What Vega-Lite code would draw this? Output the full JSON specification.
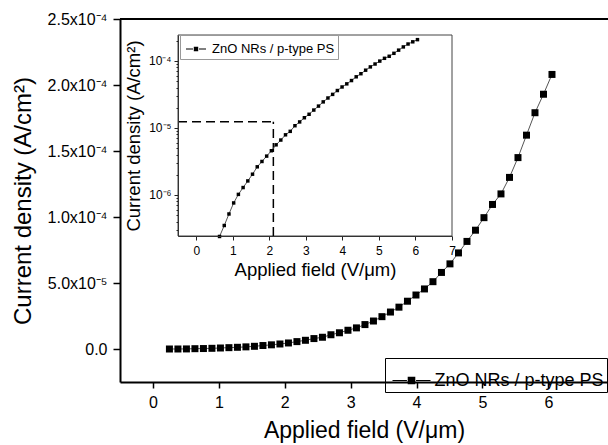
{
  "$schema": "https://vega.github.io/schema/vega-lite/v6.json",
  "width": 488,
  "height": 363,
  "autosize": {"type": "none"},
  "padding": {"left": 120, "top": 19, "right": 0, "bottom": 63},
  "background": "white",
  "config": {"view": {"stroke": null}, "font": "Liberation Sans", "axis": {"grid": false}},
  "datasets": {
    "jv": [
      {"E": 0.250, "J": 0},
      {"E": 0.379, "J": 1e-8},
      {"E": 0.508, "J": 6e-8},
      {"E": 0.637, "J": 2.4e-7},
      {"E": 0.766, "J": 3.5e-7},
      {"E": 0.895, "J": 5.2e-7},
      {"E": 1.024, "J": 7.6e-7},
      {"E": 1.153, "J": 1.02e-6},
      {"E": 1.282, "J": 1.29e-6},
      {"E": 1.411, "J": 1.62e-6},
      {"E": 1.540, "J": 2.04e-6},
      {"E": 1.669, "J": 2.63e-6},
      {"E": 1.798, "J": 3.16e-6},
      {"E": 1.927, "J": 3.8e-6},
      {"E": 2.056, "J": 4.57e-6},
      {"E": 2.185, "J": 5.6e-6},
      {"E": 2.314, "J": 6.6e-6},
      {"E": 2.443, "J": 7.9e-6},
      {"E": 2.572, "J": 8.9e-6},
      {"E": 2.701, "J": 1.08e-5},
      {"E": 2.830, "J": 1.23e-5},
      {"E": 2.959, "J": 1.42e-5},
      {"E": 3.088, "J": 1.6e-5},
      {"E": 3.217, "J": 1.85e-5},
      {"E": 3.346, "J": 2.12e-5},
      {"E": 3.475, "J": 2.45e-5},
      {"E": 3.604, "J": 2.8e-5},
      {"E": 3.733, "J": 3.17e-5},
      {"E": 3.862, "J": 3.62e-5},
      {"E": 3.991, "J": 4.09e-5},
      {"E": 4.120, "J": 4.55e-5},
      {"E": 4.249, "J": 5.1e-5},
      {"E": 4.378, "J": 5.8e-5},
      {"E": 4.507, "J": 6.45e-5},
      {"E": 4.636, "J": 7.28e-5},
      {"E": 4.765, "J": 8.15e-5},
      {"E": 4.894, "J": 9.0e-5},
      {"E": 5.023, "J": 9.95e-5},
      {"E": 5.152, "J": 1.095e-4},
      {"E": 5.281, "J": 1.175e-4},
      {"E": 5.410, "J": 1.30e-4},
      {"E": 5.539, "J": 1.45e-4},
      {"E": 5.668, "J": 1.62e-4},
      {"E": 5.797, "J": 1.79e-4},
      {"E": 5.926, "J": 1.93e-4},
      {"E": 6.055, "J": 2.08e-4}
    ],
    "one": [{}]
  },
  "layer": [
    {
      "layer": [
        {
          "data": {"name": "one"},
          "mark": {"type": "rule", "color": "black", "strokeWidth": 2},
          "encoding": {"y": {"datum": 0.00025, "type": "quantitative"}}
        },
        {
          "data": {"name": "jv"},
          "mark": {"type": "line", "color": "#555", "strokeWidth": 1},
          "encoding": {
            "x": {
              "field": "E", "type": "quantitative",
              "scale": {"domain": [-0.5, 6.905], "nice": false, "zero": false},
              "axis": {
                "orient": "bottom",
                "values": [0, 0.5, 1, 1.5, 2, 2.5, 3, 3.5, 4, 4.5, 5, 5.5, 6, 6.5],
                "format": "d",
                "labelExpr": "abs(datum.value - floor(datum.value)) < 0.01 ? datum.label : ''",
                "tickSize": {"condition": {"test": "abs(datum.value - floor(datum.value)) > 0.01", "value": 4}, "value": 6},
                "tickWidth": 1.5, "tickColor": "black",
                "domainWidth": 2, "domainColor": "black",
                "labelFontSize": 16, "labelColor": "black", "labelPadding": 6,
                "labelFlush": false, "labelOverlap": false,
                "title": "Applied field (V/μm)", "titleFontSize": 23, "titleFontWeight": "normal",
                "titleColor": "black", "titlePadding": 9, "zindex": 1
              }
            },
            "y": {
              "field": "J", "type": "quantitative",
              "scale": {"domain": [-0.000025, 0.00025], "nice": false, "zero": false},
              "axis": {
                "orient": "left",
                "values": [0, 0.000025, 0.00005, 0.000075, 0.0001, 0.000125, 0.00015, 0.000175, 0.0002, 0.000225, 0.00025],
                "labelExpr": "abs(datum.value) < 1e-7 ? '0.0' : abs(datum.value - 0.00005) < 1e-7 ? '5.0x10⁻⁵' : abs(datum.value - 0.0001) < 1e-7 ? '1.0x10⁻⁴' : abs(datum.value - 0.00015) < 1e-7 ? '1.5x10⁻⁴' : abs(datum.value - 0.0002) < 1e-7 ? '2.0x10⁻⁴' : abs(datum.value - 0.00025) < 1e-7 ? '2.5x10⁻⁴' : ''",
                "tickSize": {"condition": {"test": "abs(datum.value/0.00005 - floor(datum.value/0.00005 + 0.1)) > 0.2", "value": 4}, "value": 7},
                "tickWidth": 1.5, "tickColor": "black",
                "domainWidth": 2, "domainColor": "black",
                "labelFontSize": 16, "labelColor": "black", "labelPadding": 6,
                "labelOverlap": false, "labelFlush": false,
                "title": "Current density (A/cm²)", "titleFontSize": 24, "titleFontWeight": "normal",
                "titleColor": "black", "titlePadding": 12, "zindex": 1
              }
            }
          }
        },
        {
          "data": {"name": "jv"},
          "mark": {"type": "point", "shape": "square", "filled": true, "size": 49, "opacity": 1},
          "encoding": {
            "x": {"field": "E", "type": "quantitative"},
            "y": {"field": "J", "type": "quantitative"},
            "color": {
              "datum": "ZnO NRs / p-type PS",
              "scale": {"range": ["black"]},
              "legend": {
                "orient": "none", "legendX": 265, "legendY": 339,
                "title": null,
                "symbolType": "M-1,-0.03H-0.24V0.03H-1ZM0.24,-0.03H1V0.03H0.24ZM-0.2,-0.2H0.2V0.2H-0.2Z",
                "symbolSize": 1444,
                "symbolFillColor": "black",
                "symbolOffset": 4,
                "labelFontSize": 18, "labelColor": "black", "labelOffset": 3, "labelLimit": 400,
                "padding": 2.5,
                "strokeColor": "black", "fillColor": "white"
              }
            }
          }
        }
      ]
    },
    {
      "layer": [
        {
          "data": {"name": "one"},
          "mark": {"type": "rect", "fill": "white", "stroke": "#444", "strokeWidth": 1},
          "encoding": {
            "x": {
              "datum": -0.5, "type": "quantitative",
              "scale": {"domain": [-0.5, 7], "range": [58, 332], "nice": false, "zero": false},
              "axis": {
                "orient": "bottom", "offset": -146,
                "values": [0, 0.5, 1, 1.5, 2, 2.5, 3, 3.5, 4, 4.5, 5, 5.5, 6, 6.5, 7],
                "format": "d",
                "labelExpr": "abs(datum.value - floor(datum.value)) < 0.01 ? datum.label : ''",
                "tickSize": {"condition": {"test": "abs(datum.value - floor(datum.value)) > 0.01", "value": 2}, "value": 4},
                "tickWidth": 1, "tickColor": "#222",
                "domainWidth": 1, "domainColor": "#333",
                "labelFontSize": 12, "labelColor": "black", "labelPadding": 5,
                "labelFlush": false, "labelOverlap": false,
                "title": "Applied field (V/μm)", "titleFontSize": 18.5, "titleFontWeight": "normal",
                "titleColor": "black", "titlePadding": 4, "zindex": 1
              }
            },
            "x2": {"datum": 7},
            "y": {
              "datum": 2.44e-7, "type": "quantitative",
              "scale": {"type": "log", "domain": [2.44e-7, 2.44e-4], "range": [217, 16], "nice": false},
              "axis": {
                "orient": "left", "offset": -58,
                "values": [3e-7, 4e-7, 5e-7, 6e-7, 7e-7, 8e-7, 9e-7, 1e-6, 2e-6, 3e-6, 4e-6, 5e-6, 6e-6, 7e-6, 8e-6, 9e-6, 1e-5, 2e-5, 3e-5, 4e-5, 5e-5, 6e-5, 7e-5, 8e-5, 9e-5, 1e-4, 2e-4],
                "labelExpr": "abs(datum.value - 1e-4) < 1e-9 ? '10⁻⁴' : abs(datum.value - 1e-5) < 1e-10 ? '10⁻⁵' : abs(datum.value - 1e-6) < 1e-11 ? '10⁻⁶' : ''",
                "tickSize": {"condition": {"test": "abs(datum.value - 1e-4) < 1e-9 || abs(datum.value - 1e-5) < 1e-10 || abs(datum.value - 1e-6) < 1e-11", "value": 4}, "value": 2},
                "tickWidth": 1, "tickColor": "#222",
                "domainWidth": 1, "domainColor": "#333",
                "labelFontSize": 12, "labelColor": "black", "labelPadding": 3,
                "labelFlush": false, "labelOverlap": false,
                "title": "Current density (A/cm²)", "titleFontSize": 18.5, "titleFontWeight": "normal",
                "titleColor": "black", "titlePadding": 5, "zindex": 1
              }
            },
            "y2": {"datum": 2.44e-4}
          }
        },
        {
          "data": {"name": "one"},
          "mark": {"type": "rule", "color": "black", "strokeWidth": 1.5, "strokeDash": [9, 5]},
          "encoding": {
            "x": {"datum": -0.5, "type": "quantitative"},
            "x2": {"datum": 2.11},
            "y": {"datum": 1.24e-5, "type": "quantitative"}
          }
        },
        {
          "data": {"name": "one"},
          "mark": {"type": "rule", "color": "black", "strokeWidth": 1.5, "strokeDash": [9, 5]},
          "encoding": {
            "x": {"datum": 2.11, "type": "quantitative"},
            "y": {"datum": 2.44e-7, "type": "quantitative"},
            "y2": {"datum": 1.24e-5}
          }
        },
        {
          "data": {"name": "jv"},
          "transform": [{"filter": "datum.J > 2e-7"}],
          "mark": {"type": "line", "color": "#555", "strokeWidth": 1},
          "encoding": {
            "x": {"field": "E", "type": "quantitative"},
            "y": {"field": "J", "type": "quantitative"}
          }
        },
        {
          "data": {"name": "jv"},
          "transform": [{"filter": "datum.J > 2e-7"}],
          "mark": {"type": "point", "shape": "square", "filled": true, "size": 12, "opacity": 1},
          "encoding": {
            "x": {"field": "E", "type": "quantitative"},
            "y": {"field": "J", "type": "quantitative"},
            "color": {
              "datum": "ZnO NRs / p-type PS",
              "scale": {"range": ["black"]},
              "legend": {
                "orient": "none", "legendX": 60, "legendY": 16,
                "title": null,
                "symbolType": "M-1,-0.05H-0.3V0.05H-1ZM0.3,-0.05H1V0.05H0.3ZM-0.22,-0.22H0.22V0.22H-0.22Z",
                "symbolSize": 400,
                "symbolFillColor": "black",
                "symbolOffset": 2,
                "labelFontSize": 13, "labelColor": "black", "labelOffset": 5, "labelLimit": 300,
                "padding": 3,
                "strokeColor": "#999", "fillColor": "white"
              }
            }
          }
        }
      ]
    }
  ],
  "resolve": {
    "scale": {"x": "independent", "y": "independent", "color": "independent"},
    "axis": {"x": "independent", "y": "independent"},
    "legend": {"color": "independent"}
  }
}
